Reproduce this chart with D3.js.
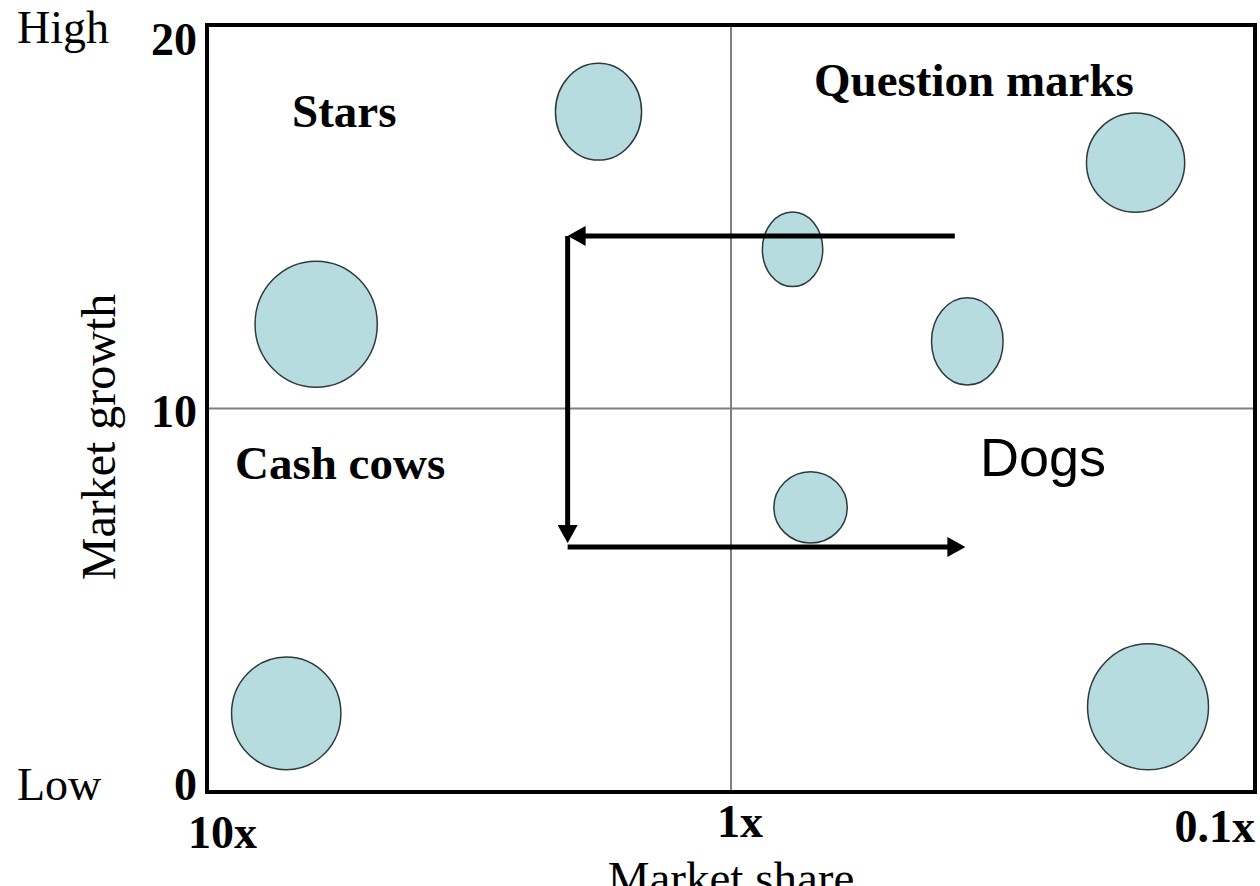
<!DOCTYPE html>
<html>
<head>
<meta charset="utf-8">
<script src="https://cdn.jsdelivr.net/npm/d3@7"></script>
<style>
  body { margin: 0; background: #fff; }
  svg { display: block; }
</style>
</head>
<body>
<div id="chart"></div>
<script>
// Bubbles: relative market share (log, 10x .. 0.1x) and market growth (0..20)
var share  = [1.79, 6.19, 0.169, 0.763, 0.354, 0.705, 7.06, 0.160];
var growth = [17.74, 12.20, 16.41, 14.15, 11.75, 7.42, 2.05, 2.22];
var sales  = [59, 100, 62, 35, 48, 32, 80, 100];
var squash = [0.89, 0.97, 0.99, 0.81, 0.82, 1.03, 0.97, 0.96];

var shareTicks  = [10, 1, 0.1];
var shareLabels = ['10x', '1x', '0.1x'];
var growthTicks = [20, 10, 0];

var quadrants = ['Stars', 'Question marks', 'Cash cows', 'Dogs'];

// movement arrows, [share, growth] from -> to
var arrowFrom = [[0.374, 14.5], [2.05, 14.5], [2.05, 6.39]];
var arrowTo   = [[2.05, 14.5], [2.05, 6.49], [0.357, 6.39]];

var width = 1260, height = 886;
var serif = '"Liberation Serif", "Times New Roman", serif';

var svg = d3.select('#chart').append('svg')
  .attr('width', width)
  .attr('height', height);

var x = d3.scaleLog().domain([10, 0.1]).range([207, 1255]);
var y = d3.scaleLinear().domain([0, 20]).range([792, 25]);
var r = d3.scaleSqrt().domain([0, 100]).range([0, 63]);

// quadrant dividers
svg.append('line')
  .attr('x1', x(1)).attr('x2', x(1))
  .attr('y1', y(20)).attr('y2', y(0))
  .attr('stroke', '#7f7f7f').attr('stroke-width', 2);
svg.append('line')
  .attr('x1', x(10)).attr('x2', x(0.1))
  .attr('y1', y(10)).attr('y2', y(10))
  .attr('stroke', '#7f7f7f').attr('stroke-width', 2);

// bubbles
svg.selectAll('ellipse.bubble')
  .data(share)
  .enter()
  .append('ellipse')
  .attr('class', 'bubble')
  .attr('cx', function(d) { return x(d); })
  .attr('cy', function(d, i) { return y(growth[i]); })
  .attr('rx', function(d, i) { return r(sales[i]) * squash[i]; })
  .attr('ry', function(d, i) { return r(sales[i]); })
  .attr('fill', '#b7dce0')
  .attr('stroke', '#2f3a3c')
  .attr('stroke-width', 1.5);

// arrows
var defs = svg.append('defs');
defs.append('marker')
  .attr('id', 'head')
  .attr('markerUnits', 'userSpaceOnUse')
  .attr('viewBox', '0 0 18 20')
  .attr('markerWidth', 18)
  .attr('markerHeight', 20)
  .attr('refX', 4)
  .attr('refY', 10)
  .attr('orient', 'auto')
  .append('path')
  .attr('d', 'M0,0 L18,10 L0,20 Z')
  .attr('fill', '#000');

svg.selectAll('line.arrow')
  .data(arrowFrom)
  .enter()
  .append('line')
  .attr('class', 'arrow')
  .each(function(d, i) {
    var x1 = x(d[0]), y1 = y(d[1]);
    var x2 = x(arrowTo[i][0]), y2 = y(arrowTo[i][1]);
    var len = Math.sqrt((x2 - x1) * (x2 - x1) + (y2 - y1) * (y2 - y1));
    var k = (len - 14) / len;
    d3.select(this)
      .attr('x1', x1).attr('y1', y1)
      .attr('x2', x1 + (x2 - x1) * k)
      .attr('y2', y1 + (y2 - y1) * k);
  })
  .attr('stroke', '#000')
  .attr('stroke-width', 5)
  .attr('marker-end', 'url(#head)');

// frame
svg.append('rect')
  .attr('x', x(10)).attr('y', y(20))
  .attr('width', x(0.1) - x(10))
  .attr('height', y(0) - y(20))
  .attr('fill', 'none')
  .attr('stroke', '#000')
  .attr('stroke-width', 4);

// y tick labels
var yOff = [30, 18, 8];
svg.selectAll('text.ytick')
  .data(growthTicks)
  .enter()
  .append('text')
  .attr('class', 'ytick')
  .attr('x', x(10) - 10)
  .attr('y', function(d, i) { return y(d) + yOff[i]; })
  .attr('text-anchor', 'end')
  .style('font-family', serif)
  .style('font-weight', 'bold')
  .style('font-size', '46px')
  .text(function(d) { return d; });

// x tick labels
var xAnchor = ['start', 'middle', 'end'];
var xShift = [-19, 9, 0];
var xBase = [848, 837, 842];
svg.selectAll('text.xtick')
  .data(shareTicks)
  .enter()
  .append('text')
  .attr('class', 'xtick')
  .attr('x', function(d, i) { return x(d) + xShift[i]; })
  .attr('y', function(d, i) { return xBase[i]; })
  .attr('text-anchor', function(d, i) { return xAnchor[i]; })
  .style('font-family', serif)
  .style('font-weight', 'bold')
  .style('font-size', '46px')
  .text(function(d, i) { return shareLabels[i]; });

// High / Low
svg.append('text').attr('x', 17).attr('y', 43)
  .style('font-family', serif).style('font-size', '46px').text('High');
svg.append('text').attr('x', 17).attr('y', 800)
  .style('font-family', serif).style('font-size', '46px').text('Low');

// axis titles (the share title runs off the bottom edge, as in the original)
svg.append('text')
  .attr('transform', 'translate(115,437) rotate(-90)')
  .attr('text-anchor', 'middle')
  .style('font-family', serif)
  .style('font-size', '48px')
  .text('Market growth');
svg.append('text')
  .attr('x', x(1))
  .attr('y', 894)
  .attr('text-anchor', 'middle')
  .style('font-family', serif)
  .style('font-size', '47px')
  .text('Market share');

// quadrant names
var qx = [292, 814, 235, 980];
var qy = [127, 96, 479, 476];
svg.selectAll('text.quad')
  .data(quadrants)
  .enter()
  .append('text')
  .attr('class', 'quad')
  .attr('x', function(d, i) { return qx[i]; })
  .attr('y', function(d, i) { return qy[i]; })
  .style('font-family', function(d) { return d == 'Dogs' ? '"Liberation Sans", Arial, sans-serif' : serif; })
  .style('font-weight', function(d) { return d == 'Dogs' ? 'normal' : 'bold'; })
  .style('font-size', function(d) { return d == 'Dogs' ? '54px' : '47px'; })
  .text(function(d) { return d; });
</script>
</body>
</html>
